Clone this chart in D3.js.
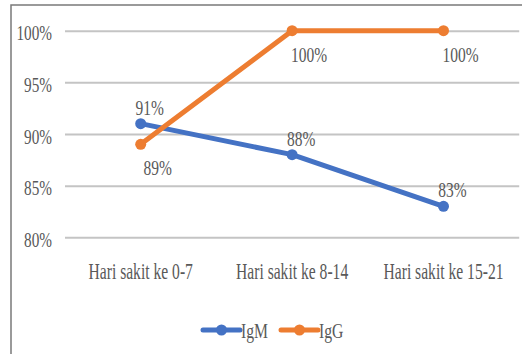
<!DOCTYPE html>
<html>
<head>
<meta charset="utf-8">
<script src="https://cdn.jsdelivr.net/npm/d3@7"></script>
<style>
  html, body { margin: 0; padding: 0; background: #fff; }
  svg { display: block; }
  text { font-family: "Liberation Serif", "Times New Roman", serif; fill: #595959; }
</style>
</head>
<body>
<svg id="chart" width="522" height="354"></svg>
<script>
// Persentase hasil positif per periode hari sakit
const categories = ["Hari sakit ke 0-7", "Hari sakit ke 8-14", "Hari sakit ke 15-21"];
const igM = [0.91, 0.88, 0.83];
const igG = [0.89, 1.00, 1.00];
const yTicks = [0.80, 0.85, 0.90, 0.95, 1.00];
const seriesNames = ["IgM", "IgG"];

const colors = { IgM: "#4472C4", IgG: "#ED7D31" };
const series = [
  { name: seriesNames[0], values: igM, labelPos: "above" },
  { name: seriesNames[1], values: igG, labelPos: "below" }
];

const svg = d3.select("#chart");
const W = 522, H = 354;
const plot = { left: 65, right: 519.2, top: 30.7, bottom: 237.3 };

// Outer frame (top and left edges)
svg.append("path")
  .attr("d", `M11,${H} L11,5 L${W},5`)
  .attr("fill", "none")
  .attr("stroke", "#7a7a7a")
  .attr("stroke-width", 1.5);

const x = d3.scaleBand().domain(categories).range([plot.left, plot.right]).padding(0);
const y = d3.scaleLinear().domain([0.80, 1.00]).range([plot.bottom, plot.top]);
const cx = c => x(c) + x.bandwidth() / 2;

// Horizontal gridlines and value labels (glyphs drawn horizontally condensed)
const yAxis = svg.append("g")
  .attr("transform", `translate(${plot.left},0)`)
  .call(d3.axisLeft(y).tickValues(yTicks).tickFormat(d3.format(".0%"))
    .tickSize(-(plot.right - plot.left)).tickSizeOuter(0));
yAxis.select(".domain").remove();
yAxis.selectAll(".tick line")
  .attr("stroke", "#c4c4c4")
  .attr("stroke-width", 2);
yAxis.selectAll(".tick text")
  .attr("x", null).attr("dy", null)
  .attr("transform", `translate(-13,9) scale(0.71,1)`)
  .attr("text-anchor", "end")
  .style("font-size", "21.5px")
  .style("fill", "#595959");

// Category labels
const xAxis = svg.append("g")
  .attr("transform", `translate(0,${plot.bottom})`)
  .call(d3.axisBottom(x).tickSize(0));
xAxis.select(".domain").remove();
xAxis.selectAll(".tick text")
  .attr("y", null).attr("dy", null)
  .attr("transform", `translate(0,42) scale(0.65,1)`)
  .attr("text-anchor", "middle")
  .style("font-size", "24px")
  .style("fill", "#595959");

// Series lines, markers and data labels
const line = d3.line().x((d, i) => cx(categories[i])).y(d => y(d));

series.forEach(s => {
  const g = svg.append("g");
  g.append("path")
    .datum(s.values)
    .attr("d", line)
    .attr("fill", "none")
    .attr("stroke", colors[s.name])
    .attr("stroke-width", 5)
    .attr("stroke-linejoin", "round")
    .attr("stroke-linecap", "round");
  g.selectAll("circle")
    .data(s.values)
    .join("circle")
    .attr("cx", (d, i) => cx(categories[i]))
    .attr("cy", d => y(d))
    .attr("r", 5.5)
    .attr("fill", colors[s.name]);
});

series.forEach(s => {
  const above = s.labelPos === "above";
  svg.append("g").selectAll("text")
    .data(s.values)
    .join("text")
    .attr("transform", (d, i) =>
      `translate(${cx(categories[i]) + (above ? 9 : 17)},${y(d) + (above ? -9 : 31)}) scale(0.72,1)`)
    .attr("text-anchor", "middle")
    .style("font-size", "21.5px")
    .text(d => d3.format(".0%")(d));
});

// Legend
const legendItems = [
  { name: seriesNames[0], x0: 203 },
  { name: seriesNames[1], x0: 281 }
];
const lg = svg.append("g").attr("transform", "translate(0,330)");
legendItems.forEach(item => {
  const gi = lg.append("g").attr("transform", `translate(${item.x0},0)`);
  gi.append("line")
    .attr("x1", 0).attr("x2", 37)
    .attr("stroke", colors[item.name])
    .attr("stroke-width", 5)
    .attr("stroke-linecap", "round");
  gi.append("circle")
    .attr("cx", 18.5).attr("r", 5.5)
    .attr("fill", colors[item.name]);
  gi.append("text")
    .attr("transform", `translate(38,7.5) scale(0.73,1)`)
    .style("font-size", "21.5px")
    .text(item.name);
});
</script>
</body>
</html>
